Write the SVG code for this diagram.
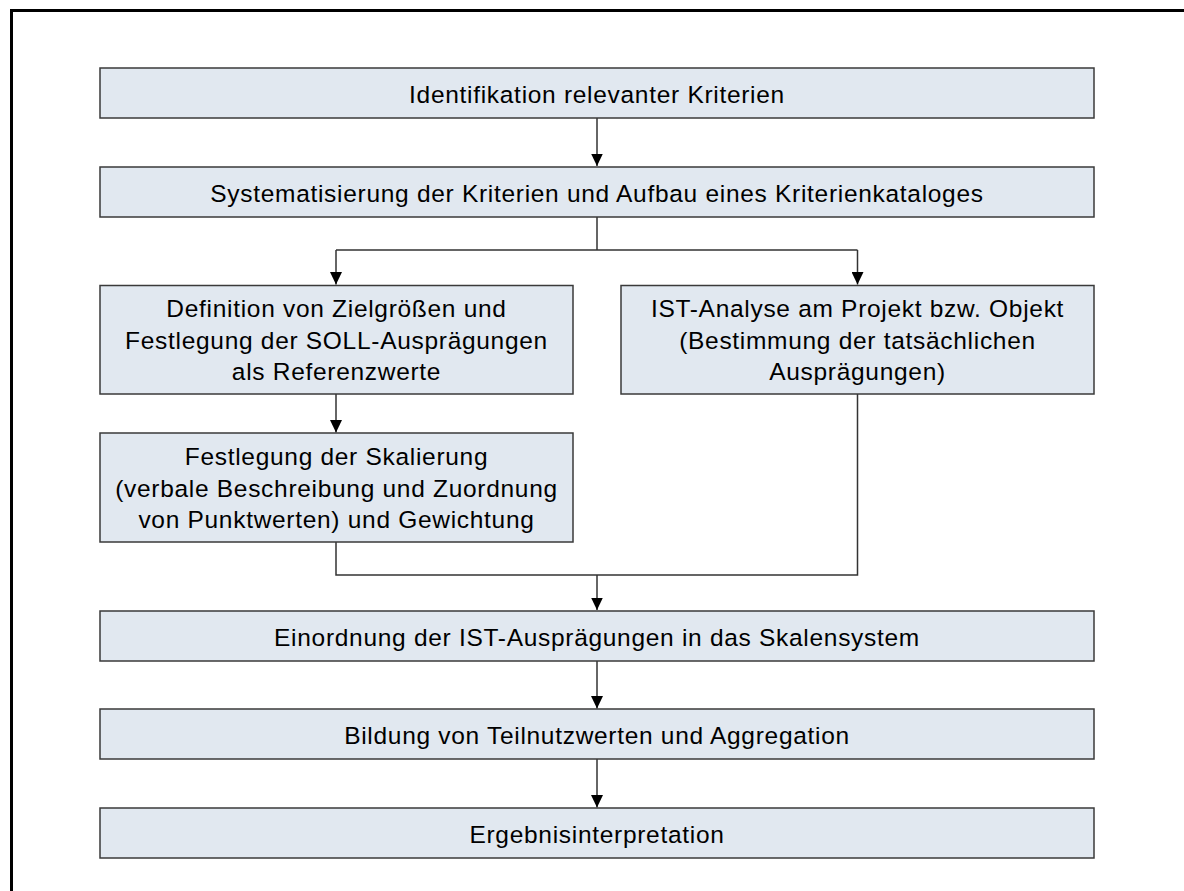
<svg xmlns="http://www.w3.org/2000/svg" width="1184" height="891" viewBox="0 0 1184 891">
<style>
.box{fill:#E1E8F0;stroke:#3a3a3a;stroke-width:1.5}
.t{font-family:"Liberation Sans",Arial,sans-serif;font-size:24.5px;letter-spacing:0.7px;fill:#000;text-anchor:middle}
.c{fill:none;stroke:#333;stroke-width:1.5}
</style>
<defs>
<marker id="ah" markerUnits="userSpaceOnUse" markerWidth="13" markerHeight="12" refX="12.5" refY="6" orient="auto" viewBox="0 0 13 12">
<path d="M0,0 L12.5,6 L0,12 Z" fill="#000"/>
</marker>
</defs>
<rect width="1184" height="891" fill="#fff"/>
<path d="M11.5,891 V10.5 H1184" fill="none" stroke="#000" stroke-width="3"/>
<g id="connectors">
<path class="c" d="M597,118 V166" marker-end="url(#ah)"/>
<path class="c" d="M597,217 V250 M336,250 H857.5"/>
<path class="c" d="M336,250 V284.5" marker-end="url(#ah)"/>
<path class="c" d="M857.5,250 V284.5" marker-end="url(#ah)"/>
<path class="c" d="M336,394 V432.5" marker-end="url(#ah)"/>
<path class="c" d="M336,542 V575 H857.5 V394"/>
<path class="c" d="M597,575 V610" marker-end="url(#ah)"/>
<path class="c" d="M597,661 V708.5" marker-end="url(#ah)"/>
<path class="c" d="M597,759 V807.5" marker-end="url(#ah)"/>
</g>
<g id="n1"><rect class="box" x="100" y="68" width="994" height="50"/><text class="t" x="597" y="102.5">Identifikation relevanter Kriterien</text></g>
<g id="n2"><rect class="box" x="100" y="167" width="994" height="50"/><text class="t" x="597" y="201.5">Systematisierung der Kriterien und Aufbau eines Kriterienkataloges</text></g>
<g id="n3"><rect class="box" x="100" y="285.5" width="473" height="108.5"/>
<text class="t" x="336.5" y="317">Definition von Zielgrößen und</text>
<text class="t" x="336.5" y="348.5">Festlegung der SOLL-Ausprägungen</text>
<text class="t" x="336.5" y="380">als Referenzwerte</text></g>
<g id="n4"><rect class="box" x="621" y="285.5" width="473" height="108.5"/>
<text class="t" x="857.5" y="317">IST-Analyse am Projekt bzw. Objekt</text>
<text class="t" x="857.5" y="348.5">(Bestimmung der tatsächlichen</text>
<text class="t" x="857.5" y="380">Ausprägungen)</text></g>
<g id="n5"><rect class="box" x="100" y="433" width="473" height="109"/>
<text class="t" x="336.5" y="465">Festlegung der Skalierung</text>
<text class="t" x="336.5" y="496.5">(verbale Beschreibung und Zuordnung</text>
<text class="t" x="336.5" y="528">von Punktwerten) und Gewichtung</text></g>
<g id="n6"><rect class="box" x="100" y="611" width="994" height="50"/><text class="t" x="597" y="645.5">Einordnung der IST-Ausprägungen in das Skalensystem</text></g>
<g id="n7"><rect class="box" x="100" y="709" width="994" height="50"/><text class="t" x="597" y="743.5">Bildung von Teilnutzwerten und Aggregation</text></g>
<g id="n8"><rect class="box" x="100" y="808" width="994" height="50"/><text class="t" x="597" y="842.5">Ergebnisinterpretation</text></g>
</svg>
